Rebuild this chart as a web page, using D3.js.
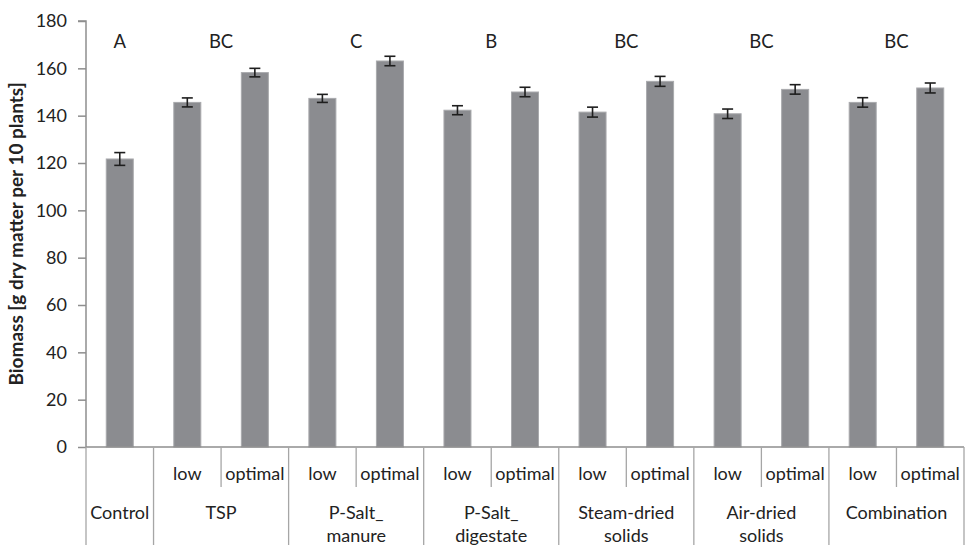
<!DOCTYPE html>
<html>
<head>
<meta charset="utf-8">
<script src="https://cdn.jsdelivr.net/npm/d3@7/dist/d3.min.js"></script>
<style>
  html, body { margin: 0; padding: 0; background: #fff; }
  svg { display: block; font-family: Lato, "Open Sans", sans-serif; }
</style>
</head>
<body>
<svg id="chart" width="966" height="545"></svg>
<script>
// Treatment groups, their application levels and the significance letters
const groupNames = [["Control"], ["TSP"], ["P-Salt_", "manure"], ["P-Salt_", "digestate"],
                    ["Steam-dried", "solids"], ["Air-dried", "solids"], ["Combination"]];
const groupLevels = [[""], ["low", "optimal"], ["low", "optimal"], ["low", "optimal"],
                     ["low", "optimal"], ["low", "optimal"], ["low", "optimal"]];
const groupLetters = ["A", "BC", "C", "B", "BC", "BC", "BC"];

// Biomass (g dry matter per 10 plants) and error, one value per bar
const biomass = [121.7, 145.6, 158.2, 147.3, 163.1, 142.3, 150.0, 141.5, 154.5, 140.8, 151.1, 145.6, 151.7];
const errors  = [2.7, 1.9, 1.8, 1.7, 2.0, 1.9, 2.0, 2.1, 2.1, 2.0, 2.0, 2.0, 2.1];

const yTicks = [0, 20, 40, 60, 80, 100, 120, 140, 160, 180];

// Flatten groups into bars
const bars = [];
groupNames.forEach((g, gi) => {
  groupLevels[gi].forEach(lv => {
    bars.push({ id: bars.length, group: gi, level: lv, value: biomass[bars.length], err: errors[bars.length] });
  });
});

const svg = d3.select("#chart");
const plotLeft = 86, plotRight = 964, plotTop = 21, plotBottom = 447;

const x = d3.scaleBand().domain(bars.map(d => d.id)).range([plotLeft, plotRight])
  .paddingInner(0.6).paddingOuter(0.3);
const step = x.step();
const slotStart = id => plotLeft + id * step;

const y = d3.scaleLinear().domain([0, 180]).range([plotBottom, plotTop]);

// Y axis
const yAxis = svg.append("g").attr("transform", `translate(${plotLeft},0)`)
  .call(d3.axisLeft(y).tickValues(yTicks).tickSize(8).tickPadding(11));
yAxis.select(".domain").attr("stroke", "#8e8e8e").attr("stroke-width", 1.5)
  .attr("d", `M-8,${plotTop}H0V${plotBottom}`);
yAxis.selectAll(".tick line").attr("stroke", "#8e8e8e").attr("stroke-width", 1.5);
yAxis.selectAll(".tick text").attr("font-size", 18).attr("fill", "#222")
  .attr("font-family", "Lato, sans-serif");

// Y title
svg.append("text")
  .attr("transform", `translate(23,${(plotTop + plotBottom) / 2}) rotate(-90)`)
  .attr("text-anchor", "middle")
  .attr("font-weight", "bold").attr("font-size", 19).attr("fill", "#222")
  .text("Biomass [g dry matter per 10 plants]");

// Bars
svg.append("g").selectAll("rect").data(bars).join("rect")
  .attr("x", d => x(d.id)).attr("width", x.bandwidth())
  .attr("y", d => y(d.value)).attr("height", d => y(0) - y(d.value))
  .attr("fill", "#8b8c90").attr("stroke", "#a9aaad").attr("stroke-width", 1);

// Error bars
const eb = svg.append("g").attr("stroke", "#1e1e1e").attr("stroke-width", 1.6);
bars.forEach(d => {
  const cx = x(d.id) + x.bandwidth() / 2;
  const y1 = y(d.value + d.err), y2 = y(d.value - d.err);
  eb.append("line").attr("x1", cx).attr("x2", cx).attr("y1", y1).attr("y2", y2);
  eb.append("line").attr("x1", cx - 5.5).attr("x2", cx + 5.5).attr("y1", y1).attr("y2", y1);
  eb.append("line").attr("x1", cx - 5.5).attr("x2", cx + 5.5).attr("y1", y2).attr("y2", y2);
});

// Category axis: baseline, separators and labels
const cat = svg.append("g");
cat.append("line").attr("x1", plotLeft).attr("x2", plotRight).attr("y1", plotBottom).attr("y2", plotBottom)
  .attr("stroke", "#8e8e8e").attr("stroke-width", 1.5);

const axisLineColor = "#a6a6a6";
let idx = 0;
const groupEnds = [];
groupNames.forEach((g, gi) => {
  const n = groupLevels[gi].length;
  const x0 = slotStart(idx), x1 = slotStart(idx + n);
  groupEnds.push(x1);
  // level labels and inner separators
  groupLevels[gi].forEach((lv, li) => {
    const id = idx + li;
    const cx = x(id) + x.bandwidth() / 2;
    if (lv) {
      cat.append("text").attr("x", cx).attr("y", 480).attr("text-anchor", "middle")
        .attr("font-size", 18).attr("fill", "#222").text(lv);
    }
    if (li > 0) {
      const sx = slotStart(id);
      cat.append("line").attr("x1", sx).attr("x2", sx).attr("y1", plotBottom).attr("y2", 487)
        .attr("stroke", axisLineColor).attr("stroke-width", 1.3);
    }
  });
  // group label
  const gcx = (x0 + x1) / 2;
  g.forEach((line, k) => {
    cat.append("text").attr("x", gcx).attr("y", 519 + k * 23).attr("text-anchor", "middle")
      .attr("font-size", 18).attr("fill", "#222").text(line);
  });
  // significance letter
  svg.append("text").attr("x", gcx).attr("y", 48).attr("text-anchor", "middle")
    .attr("font-size", 18.5).attr("fill", "#222").text(groupLetters[gi]);
  idx += n;
});

// Group separators run to the bottom edge
[plotLeft].concat(groupEnds).forEach(ex => {
  cat.append("line").attr("x1", ex).attr("x2", ex).attr("y1", plotBottom).attr("y2", 545)
    .attr("stroke", axisLineColor).attr("stroke-width", 1.3);
});
</script>
</body>
</html>
